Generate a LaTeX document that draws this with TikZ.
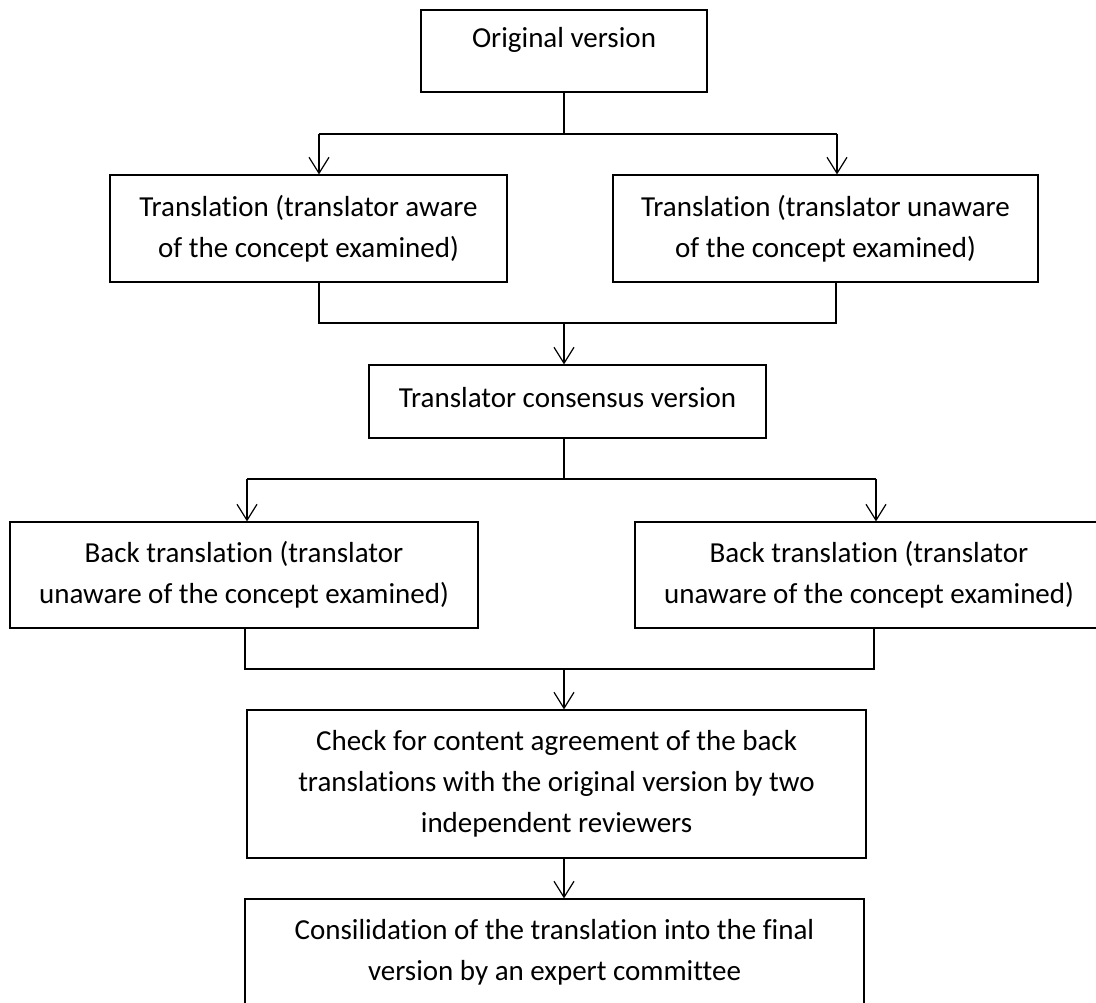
\documentclass[tikz,border=0pt]{standalone}
\usepackage{fontspec}
\setmainfont{Carlito}[Ligatures={NoCommon,NoContextual}]
\usetikzlibrary{arrows.meta}
\begin{document}
\begin{tikzpicture}[x=1pt,y=-1pt,
  box/.style={draw, line width=1.2pt, align=center, inner sep=0pt, font=\fontsize{29}{41}\selectfont},
  link/.style={line width=1.2pt},
  arr/.style={link, -{Straight Barb[length=16pt,width=20pt]}}]
  \useasboundingbox (0,0) rectangle (1096,1003);
  \node[box, minimum width=286pt, minimum height=82pt, text height=20pt, text depth=26pt] (orig) at (564,51) {Original version};
  \node[box, minimum width=397pt, minimum height=107pt] (transA) at (308.5,228.5) {Translation (translator aware\\of the concept examined)};
  \node[box, minimum width=425pt, minimum height=107pt] (transU) at (825.5,228.5) {Translation (translator unaware\\of the concept examined)};
  \node[box, minimum width=397pt, minimum height=73pt, text height=20pt, text depth=9pt] (cons) at (567.5,401.5) {Translator consensus version};
  \node[box, minimum width=468pt, minimum height=106pt] (backA) at (244,575) {Back translation (translator\\unaware of the concept examined)};
  \node[box, minimum width=468pt, minimum height=106pt] (backU) at (869,575) {Back translation (translator\\unaware of the concept examined)};
  \node[box, minimum width=619pt, minimum height=148pt] (check) at (556.5,784) {Check for content agreement of the back\\translations with the original version by two\\independent reviewers};
  \node[box, minimum width=619pt, minimum height=106pt] (consol) at (554.5,952) {Consilidation of the translation into the final\\version by an expert committee};
  % split after the original
  \coordinate (s1) at (564,134);
  \coordinate (s1L) at (319,134);
  \coordinate (s1R) at (837,134);
  \draw[link] (orig) -- (s1);
  \draw[link] (s1L) -- (s1R);
  \draw[arr] (s1L) -- (s1L |- transA.north);
  \draw[arr] (s1R) -- (s1R |- transU.north);
  % merge into consensus
  \coordinate (m1) at (564,323);
  \coordinate (m1L) at (319,323);
  \coordinate (m1R) at (836,323);
  \draw[link] (m1L |- transA.south) -- (m1L) -- (m1R) -- (m1R |- transU.south);
  \draw[arr] (m1) -- (m1 |- cons.north);
  % split to back translations
  \coordinate (s2) at (564,479);
  \coordinate (s2L) at (247,479);
  \coordinate (s2R) at (876,479);
  \draw[link] (s2 |- cons.south) -- (s2);
  \draw[link] (s2L) -- (s2R);
  \draw[arr] (s2L) -- (s2L |- backA.north);
  \draw[arr] (s2R) -- (s2R |- backU.north);
  % merge into check
  \coordinate (m2) at (564,669);
  \coordinate (m2L) at (245,669);
  \coordinate (m2R) at (874,669);
  \draw[link] (m2L |- backA.south) -- (m2L) -- (m2R) -- (m2R |- backU.south);
  \draw[arr] (m2) -- (m2 |- check.north);
  \draw[arr] (m2 |- check.south) -- (m2 |- consol.north);
\end{tikzpicture}
\end{document}
